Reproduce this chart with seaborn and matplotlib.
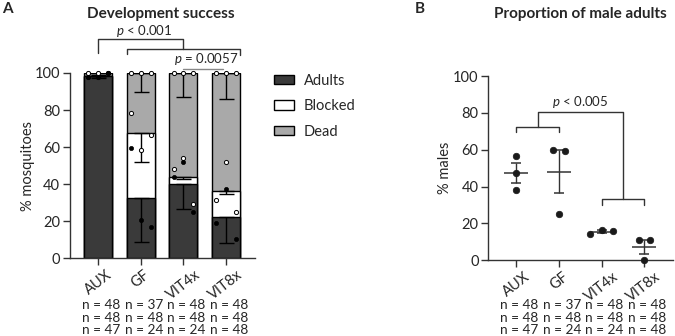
import matplotlib
matplotlib.use('Agg')
import matplotlib.pyplot as plt
import matplotlib.transforms as mtransforms
from matplotlib.patches import Patch
import numpy as np
import pandas as pd
import seaborn as sns

groups = ['AUX', 'GF', 'VIT4x', 'VIT8x']

# per-replicate percentages (3 replicates per group), panel A
adults_pct = [[97.9, 97.9, 100.0], [59.5, 20.8, 16.7], [43.8, 52.1, 25.0], [18.8, 37.5, 10.4]]
blocked_pct = [[0.0, 0.0, 0.0], [18.9, 37.5, 50.0], [4.2, 2.1, 4.2], [12.5, 14.6, 14.6]]
dead_pct = [[2.1, 2.1, 0.0], [21.6, 41.7, 33.3], [52.0, 45.8, 70.8], [68.7, 47.9, 75.0]]

# panel B, % males per replicate
males_pct = [[56.6, 47.2, 38.3], [59.9, 59.3, 25.1], [14.3, 16.4, 16.1], [11.0, 11.0, 0.0]]

# sample sizes per replicate (row) and group (column)
n_rows = [[48, 37, 48, 48], [48, 48, 48, 48], [47, 24, 24, 48]]

# layout constants
rep_offset_a = [-0.23, 0.0, 0.23]
spread_b = [[0, 0, 0], [-0.14, 0.14, 0], [-0.26, 0, 0.27], [-0.13, 0.14, 0]]
c_dark = '#3a3a3a'
c_gray = '#a9a9a9'
c_line = '#333333'

sns.set_style('ticks')
plt.rcParams['font.family'] = ['Lato', 'DejaVu Sans']
plt.rcParams['mathtext.fontset'] = 'custom'
plt.rcParams['mathtext.it'] = 'Lato:italic'
plt.rcParams['mathtext.rm'] = 'Lato'
plt.rcParams['axes.linewidth'] = 1.0
plt.rcParams['axes.edgecolor'] = c_line

fig = plt.figure(figsize=(6.75, 3.36), dpi=100)
W, H = 675, 336


def px_axes(x0, x1, ytop, ybot):
    return fig.add_axes([x0 / W, 1 - ybot / H, (x1 - x0) / W, (ybot - ytop) / H])


def style_axes(ax):
    sns.despine(ax=ax)
    ax.set_ylim(0, 100)
    ax.set_yticks([0, 20, 40, 60, 80, 100])
    ax.tick_params(axis='both', length=5, width=1, color=c_line, labelsize=10.5, pad=2)
    ax.set_xticks(range(len(groups)))
    ax.set_xticklabels(groups, rotation=38, ha='center', fontsize=10.5)
    ax.set_xlim(-0.66, 3.68)
    tr = mtransforms.blended_transform_factory(ax.transData, fig.transFigure)
    for r, row in enumerate(n_rows):
        for i, n in enumerate(row):
            ax.text(i + 0.07, 1 - (305 + 12.6 * r) / H, f'n = {n}', transform=tr,
                    ha='center', va='center', fontsize=9.8)


# ---------------- Panel A ----------------
axA = px_axes(70, 255, 73, 258.3)

ad = np.array(adults_pct)
bl = np.array(blocked_pct)
de = np.array(dead_pct)
top_ad = ad.mean(axis=1)
top_bl = top_ad + bl.mean(axis=1)
top_de = top_bl + de.mean(axis=1)

for tops, col in [(top_de, c_gray), (top_bl, 'white'), (top_ad, c_dark)]:
    sns.barplot(x=groups, y=tops, color=col, saturation=1, width=0.656, edgecolor='black',
                linewidth=1, errorbar=None, ax=axA)

xs = np.arange(len(groups))
for tops, vals in [(top_ad, ad), (top_bl, bl), (top_de, de)]:
    sd = vals.std(axis=1, ddof=1)
    axA.errorbar(xs, tops, yerr=[sd, np.zeros_like(sd)], fmt='none', ecolor='black',
                 elinewidth=1, capsize=5.4, capthick=1, zorder=4)

rows = []
for i, g in enumerate(groups):
    for r in range(3):
        rows.append({'x': i + rep_offset_a[r], 'y': ad[i, r], 'kind': 'Adults'})
        rows.append({'x': i + rep_offset_a[r], 'y': ad[i, r] + bl[i, r], 'kind': 'Blocked'})
        rows.append({'x': i + rep_offset_a[r], 'y': ad[i, r] + bl[i, r] + de[i, r], 'kind': 'Dead'})
ptsA = pd.DataFrame(rows)
sns.scatterplot(data=ptsA[ptsA.kind != 'Adults'], x='x', y='y', s=9, color='white',
                edgecolor='black', linewidth=0.7, ax=axA, zorder=5, clip_on=False)
sns.scatterplot(data=ptsA[ptsA.kind == 'Adults'], x='x', y='y', s=9, color='black',
                edgecolor='black', linewidth=0.5, ax=axA, zorder=6, clip_on=False)

style_axes(axA)
axA.set_xlabel('')
axA.set_ylabel('% mosquitoes', fontsize=10.5, labelpad=0)

# brackets
kw = dict(color=c_line, lw=1, clip_on=False)
axA.plot([0, 0, 2, 2], [110.8, 118.4, 118.4, 113], **kw)
axA.plot([0.68, 0.68, 3.32, 3.32], [110.3, 113, 113, 109.5], **kw)
axA.text(1.08, 122.5, '$p$ < 0.001', ha='center', va='center', fontsize=9.5)
axA.plot([2.0, 2.93], [101.9, 101.9], color='#888888', lw=1, clip_on=False)
axA.text(2.53, 107.3, '$p$ = 0.0057', ha='center', va='center', fontsize=9.5)

fig.text(161 / W, 1 - 14 / H, 'Development success', ha='center', va='center',
         fontsize=11, fontweight='bold')
fig.text(7 / W, 1 - 9 / H, 'A', ha='center', va='center', fontsize=11, fontweight='bold')

handles = [Patch(facecolor=c_dark, edgecolor='black', label='Adults'),
           Patch(facecolor='white', edgecolor='black', label='Blocked'),
           Patch(facecolor=c_gray, edgecolor='black', label='Dead')]
fig.legend(handles=handles, loc='upper left', bbox_to_anchor=(268 / W, 1 - 68 / H),
           frameon=False, fontsize=10.5, handlelength=1.37, handleheight=0.62,
           handletextpad=0.7, labelspacing=0.78, borderaxespad=0)

# ---------------- Panel B ----------------
axB = px_axes(488.3, 673, 76, 260.3)

mb = np.array(males_pct)
rowsB = []
for i, g in enumerate(groups):
    for r in range(3):
        rowsB.append({'x': i + spread_b[i][r], 'y': mb[i, r]})
ptsB = pd.DataFrame(rowsB)
sns.scatterplot(data=ptsB, x='x', y='y', s=22, color='#1a1a1a', edgecolor='#1a1a1a',
                linewidth=0.5, ax=axB, zorder=5, clip_on=False)

mean_b = mb.mean(axis=1)
sem_b = mb.std(axis=1, ddof=1) / np.sqrt(mb.shape[1])
axB.errorbar(xs, mean_b, yerr=sem_b, fmt='_', markersize=17, mew=1.1, color=c_line,
             ecolor=c_line, elinewidth=1, capsize=3.9, capthick=1, zorder=4)

style_axes(axB)
axB.set_xlabel('')
axB.set_ylabel('% males', fontsize=10.5, labelpad=1)

axB.plot([0, 0, 1, 1], [69.4, 72.2, 72.2, 69.4], **kw)
axB.plot([2, 2, 3, 3], [30, 33.1, 33.1, 30], **kw)
axB.plot([0.5, 0.5, 2.5, 2.5], [72.2, 80.3, 80.3, 33.1], **kw)
axB.text(1.5, 86, '$p$ < 0.005', ha='center', va='center', fontsize=9.5)

fig.text(580 / W, 1 - 14 / H, 'Proportion of male adults', ha='center', va='center',
         fontsize=11, fontweight='bold')
fig.text(420 / W, 1 - 9 / H, 'B', ha='center', va='center', fontsize=11, fontweight='bold')

fig.savefig('out.png', dpi=100)
